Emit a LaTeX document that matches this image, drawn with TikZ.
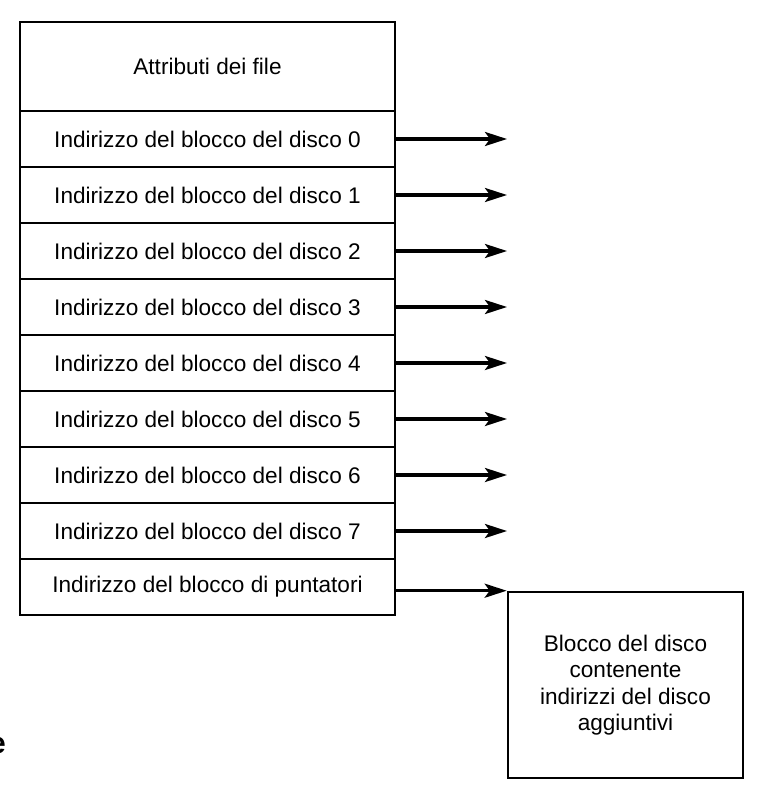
\documentclass[tikz,border=0pt]{standalone}
\usepackage{fontspec}
\setmainfont{Liberation Sans}
\usetikzlibrary{arrows.meta}
\begin{document}
\begin{tikzpicture}[x=1pt,y=-1pt,
  cell/.style={draw, line width=2.6pt, minimum width=375pt, minimum height=56pt, inner sep=0pt,
    font=\fontsize{22.6}{26.3}\selectfont},
  ptr/.style={line width=3.3pt, -{Stealth[length=22pt,width=14pt,inset=5pt]}},
  blockbox/.style={draw, line width=2.6pt, minimum width=235pt, minimum height=186pt, inner sep=0pt,
    align=center, font=\fontsize{22.6}{26.3}\selectfont}]
\useasboundingbox (0,0) rectangle (760,790);
\node[cell, minimum height=89pt] (attr) at (207.5,66.5) {Attributi dei file};
\foreach \i in {0,...,7}{
  \node[cell] (row\i) at (207.5,{139+56*\i}) {Indirizzo del blocco del disco \i};
  \coordinate (end\i) at (507,{139+56*\i});
  \draw[ptr] (row\i.east) -- (end\i);
}
\node[cell] (row8) at (207.5,587) {Indirizzo del blocco di puntatori};
\node[blockbox] (blk) at (625.5,685) {Blocco del disco\\contenente\\indirizzi del disco\\aggiuntivi};
\draw[ptr] (row8.east |- blk.north west) -- (blk.north west);
\node[anchor=base east, inner sep=0pt, font=\bfseries\fontsize{30}{32}\selectfont] (frag) at (6,753) {e};
\end{tikzpicture}
\end{document}
